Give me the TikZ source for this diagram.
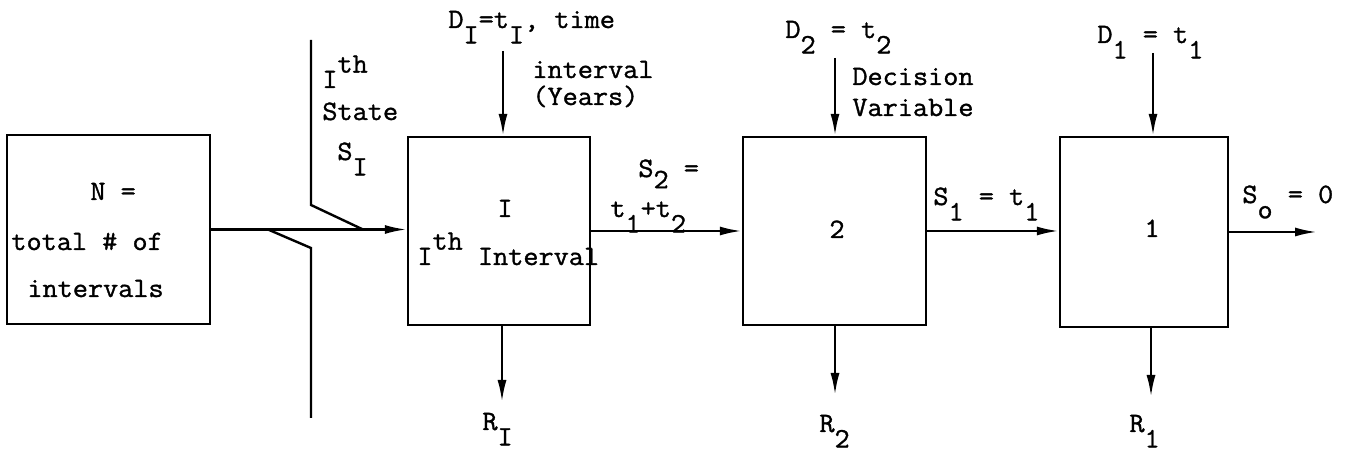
\documentclass[tikz,border=0pt]{standalone}
\usepackage{fontspec}
\setmonofont{Latin Modern Mono}[FakeStretch=1.05,FakeBold=1.2]
\usetikzlibrary{arrows.meta}
\newcommand{\dn}[1]{\raisebox{-0.55em}{#1}}
\newcommand{\up}[1]{\raisebox{0.55em}{#1}}
\begin{document}
\begin{tikzpicture}[x=0.5pt,y=-0.5pt,
  blk/.style={draw, line width=1.2pt, inner sep=0pt},
  lbl/.style={inner sep=0pt, anchor=base west, font=\ttfamily\fontsize{14}{16}\selectfont},
  clbl/.style={inner sep=0pt, anchor=base, font=\ttfamily\fontsize{14}{16}\selectfont},
  arr/.style={line width=1.2pt, -{Latex[length=11pt,width=4.5pt]}},
  ln/.style={line width=1.2pt}]
\useasboundingbox (0,0) rectangle (1354,453);

% boxes
\node[blk, minimum width=101.5pt, minimum height=94.5pt] (bN) at (108.5,229.5) {};
\node[blk, minimum width=91pt, minimum height=94pt] (bI) at (499,231) {};
\node[blk, minimum width=91.5pt, minimum height=94pt] (b2) at (834.5,231) {};
\node[blk, minimum width=84pt, minimum height=95pt] (b1) at (1144,232) {};

% box texts
\node[lbl] (tN1) at (90,200) {N =};
\node[lbl] (tN2) at (11,250) {total \# of};
\node[lbl] (tN3) at (27,297) {intervals};
\node[clbl] (tI1) at (505,217) {I};
\node[lbl] (tI2) at (417,265) {I\up{th} Interval};
\node[clbl] (t2) at (837,238) {2};
\node[clbl] (t1) at (1152,237) {1};

% coordinates
\coordinate (dI) at (503,51);
\coordinate (d2) at (835,58);
\coordinate (d1) at (1153,53);
\coordinate (rI) at (502,402);
\coordinate (r2) at (835,395);
\coordinate (r1) at (1151,397);
\coordinate (so) at (1317,0);

% state break lines
\coordinate (u1) at (311,40);
\coordinate (u2) at (311,205);
\coordinate (u3) at (363,229.5);
\coordinate (l1) at (268,229.5);
\coordinate (l2) at (311,248);
\coordinate (l3) at (311,418);
\draw[ln] (u1) -- (u2) -- (u3);
\draw[ln] (l1) -- (l2) -- (l3);

% horizontal connectors
\draw[arr] (bN.east) -- (bN.east -| bI.west);
\draw[arr] (bI.east) -- (bI.east -| b2.west);
\draw[arr] (b2.east) -- (b2.east -| b1.west);
\draw[arr] (b1.east) -- (b1.east -| so);

% decision arrows
\draw[arr] (dI) -- (dI |- bI.north);
\draw[arr] (d2) -- (d2 |- b2.north);
\draw[arr] (d1) -- (d1 |- b1.north);

% return arrows
\draw[arr] (rI |- bI.south) -- (rI);
\draw[arr] (r2 |- b2.south) -- (r2);
\draw[arr] (r1 |- b1.south) -- (r1);

% labels
\node[lbl] (lsI1) at (322,88) {I\up{th}};
\node[lbl] (lsI2) at (322,120) {State};
\node[lbl] (lsI3) at (337,160) {S\dn{I}};
\node[lbl] (ldI1) at (448,28) {D\dn{I}=t\dn{I}, time};
\node[lbl] (ldI2) at (532,78) {interval};
\node[lbl] (ldI3) at (532,105) {(Years)};
\node[lbl] (ls21) at (638,177) {S\raisebox{-0.4em}{2} =};
\node[lbl] (ls22) at (610,217) {t\dn{1}+t\dn{2}};
\node[lbl] (ld21) at (785,38) {D\dn{2} = t\dn{2}};
\node[lbl] (ld22) at (852,85) {Decision};
\node[lbl] (ld23) at (852,116) {Variable};
\node[lbl] (ls1) at (933,205) {S\dn{1} = t\dn{1}};
\node[lbl] (ld1) at (1097,43) {D\dn{1} = t\dn{1}};
\node[lbl] (lso) at (1242,203) {S\dn{o} = 0};
\node[lbl] (lrI) at (482,430) {R\dn{I}};
\node[lbl] (lr2) at (819,432) {R\dn{2}};
\node[lbl] (lr1) at (1129,432) {R\dn{1}};
\end{tikzpicture}
\end{document}
